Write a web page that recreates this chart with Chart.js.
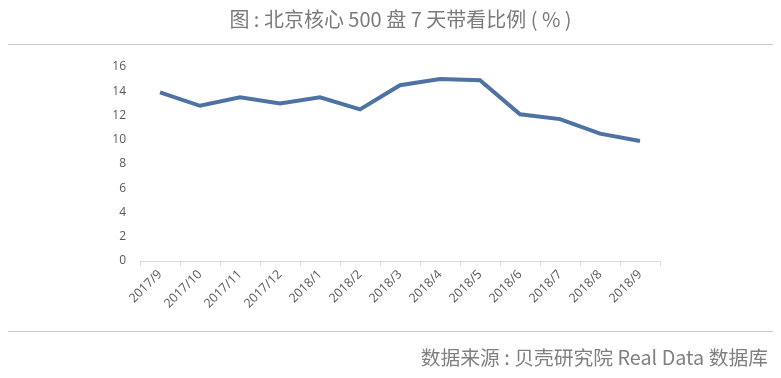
<!DOCTYPE html>
<html>
<head>
<meta charset="utf-8">
<script src="https://cdn.jsdelivr.net/npm/chart.js@4/dist/chart.umd.min.js"></script>
<style>
  html, body { margin: 0; padding: 0; background: #ffffff; }
  #wrap { position: relative; width: 781px; height: 378px; overflow: hidden; }
  #c { position: absolute; left: 0; top: 0; }
  .title { position: absolute; left: 0; width: 801px; top: 6px; text-align: center;
           font-family: "Noto Sans CJK SC", sans-serif; font-size: 20px; color: #7b7b7b; line-height: 26px; white-space: pre; }
  .rule { position: absolute; left: 8px; width: 765px; height: 1px; background: #c8c8c8; }
  .source { position: absolute; right: 13px; top: 344px; font-family: "Noto Sans CJK SC", sans-serif;
            font-size: 19.8px; color: #808080; line-height: 26px; white-space: pre; }
</style>
</head>
<body>
<div id="wrap">
  <canvas id="c" width="781" height="378"></canvas>
  <div class="title">图 : 北京核心 500 盘 7 天带看比例 ( % )</div>
  <div class="rule" style="top:44px"></div>
  <div class="rule" style="top:331px"></div>
  <div class="source">数据来源 : 贝壳研究院 Real Data 数据库</div>
</div>
<script>
const categories = ["2017/9","2017/10","2017/11","2017/12","2018/1","2018/2","2018/3","2018/4","2018/5","2018/6","2018/7","2018/8","2018/9"];
const ratioValues = [13.9, 12.8, 13.5, 13.0, 13.5, 12.5, 14.5, 15.0, 14.9, 12.1, 11.7, 10.5, 9.9];
const yMin = 0, yMax = 16, yStep = 2;

const yFont = { family: '"Open Sans", sans-serif', size: 12 };
const xFont = { family: '"Open Sans", sans-serif', size: 12.5 };

new Chart(document.getElementById('c'), {
  type: 'line',
  data: {
    labels: categories,
    datasets: [{
      data: ratioValues,
      borderColor: '#4e72a3',
      borderWidth: 4,
      pointRadius: 0,
      tension: 0,
      fill: false
    }]
  },
  options: {
    responsive: false,
    animation: false,
    layout: { padding: { top: 67, right: 121, left: 0, bottom: 47 } },
    plugins: { legend: { display: false }, tooltip: { enabled: false } },
    scales: {
      x: {
        offset: true,
        grid: { offset: true, drawOnChartArea: false, drawTicks: true, tickLength: 5, color: '#d9d9d9' },
        border: { color: '#d9d9d9', width: 1 },
        ticks: { minRotation: 45, maxRotation: 45, color: '#595959', font: xFont, padding: 1 },
        afterFit: s => { s.height = 70; }
      },
      y: {
        min: yMin, max: yMax,
        grid: { display: false, drawTicks: false },
        border: { display: false },
        ticks: { stepSize: yStep, color: '#595959', font: yFont, padding: 14 },
        afterFit: s => { s.width = 140; }
      }
    }
  }
});
</script>
</body>
</html>
